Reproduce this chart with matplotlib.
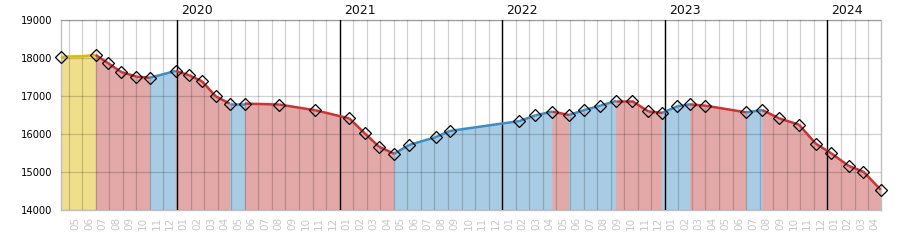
import matplotlib
matplotlib.use('Agg')
import matplotlib.pyplot as plt
import numpy as np

# x = months since 2019-01-01 (fractional), y = value
months = [3.40, 6.00, 6.93, 7.89, 9.00, 9.99, 11.90, 12.91, 13.85, 14.86,
          15.89, 17.00, 19.55, 22.21, 24.72, 25.85, 26.91, 28.02, 29.12, 31.11,
          32.13, 37.26, 38.44, 39.70, 40.93, 42.06, 43.23, 44.40, 45.58, 46.78,
          47.79, 48.92, 49.86, 50.99, 54.01, 55.20, 56.45, 57.90, 59.14, 60.29,
          61.57, 62.65, 63.93]
values = [18020, 18080, 17860, 17630, 17510, 17480, 17660, 17545, 17385, 16990,
          16800, 16800, 16775, 16625, 16410, 16020, 15665, 15480, 15710, 15920,
          16080, 16340, 16490, 16590, 16500, 16630, 16745, 16870, 16870, 16595,
          16555, 16730, 16780, 16745, 16570, 16630, 16410, 16245, 15745, 15490,
          15160, 15010, 14535]
# trend of each interval between points: y = first, r = down, b = up
trend = (['y'] + ['r'] * 4 + ['b'] + ['r'] * 4 + ['b'] + ['r'] * 6 + ['b'] * 6 +
         ['r'] + ['b'] * 3 + ['r'] * 3 + ['b'] * 2 + ['r'] * 2 + ['b'] + ['r'] * 7)

# extra line vertices inside the first interval
extra_x = [3.75, 4.99, 5.73]
extra_y = [18040, 18045, 18070]

years = [2020, 2021, 2022, 2023, 2024]

line_col = {'y': '#e0b800', 'r': '#cc3333', 'b': '#3a8ec8'}
fill_col = {'y': '#f0df8a', 'r': '#e3a8a8', 'b': '#a8cce3'}

x = np.array(months)
y = np.array(values)

fig = plt.figure(figsize=(9, 2.5), dpi=100)
ax = fig.add_axes([60.5 / 900, 40 / 250, 820.2 / 900, 190 / 250])

for i, t in enumerate(trend):
    xs = [x[i], x[i + 1]]
    ys = [y[i], y[i + 1]]
    if i == 0:
        xs = [x[0]] + extra_x + [x[1]]
        ys = [y[0]] + extra_y + [y[1]]
    ax.fill_between(xs, ys, 14000, facecolor=fill_col[t],
                    edgecolor=fill_col[t], lw=0.6, zorder=1)
    ax.plot(xs, ys, color=line_col[t], lw=1.8, zorder=4, solid_capstyle='butt')

ax.plot(x, y, ls='none', marker='D', ms=6, mfc='none', mec='black',
        mew=0.9, zorder=5, clip_on=False)

for yr in years:
    m = (yr - 2019) * 12
    ax.axvline(m, color='black', lw=1, zorder=3)
    ax.annotate(str(yr), (m, 19000), xytext=(3, 2), textcoords='offset points',
                ha='left', va='bottom', fontsize=9, color='#111111',
                annotation_clip=False)

ax.set_xticks(np.arange(4, 64), minor=True)
ax.grid(True, which='minor', axis='x', color='black', alpha=0.18, lw=0.9, zorder=2)
ax.set_yticks(np.arange(14000, 19001, 1000))
ax.grid(True, which='major', axis='y', color='black', alpha=0.18, lw=0.9, zorder=2)
ax.set_axisbelow(False)

pos = np.arange(4, 64) + 0.5
ax.set_xticks(pos)
ax.set_xticklabels(['%02d' % (k % 12 + 1) for k in range(4, 64)],
                   rotation=90, fontsize=7.5, color='#c8c8c8')
ax.tick_params(axis='x', which='both', length=0, pad=5)
ax.tick_params(axis='y', length=0, pad=6, labelsize=7.2)

ax.set_xlim(x[0], x[-1])
ax.set_ylim(14000, 19000)

for s in ax.spines.values():
    s.set_color('#c0c0c0')
    s.set_linewidth(1)

fig.savefig('out.png', dpi=100)
